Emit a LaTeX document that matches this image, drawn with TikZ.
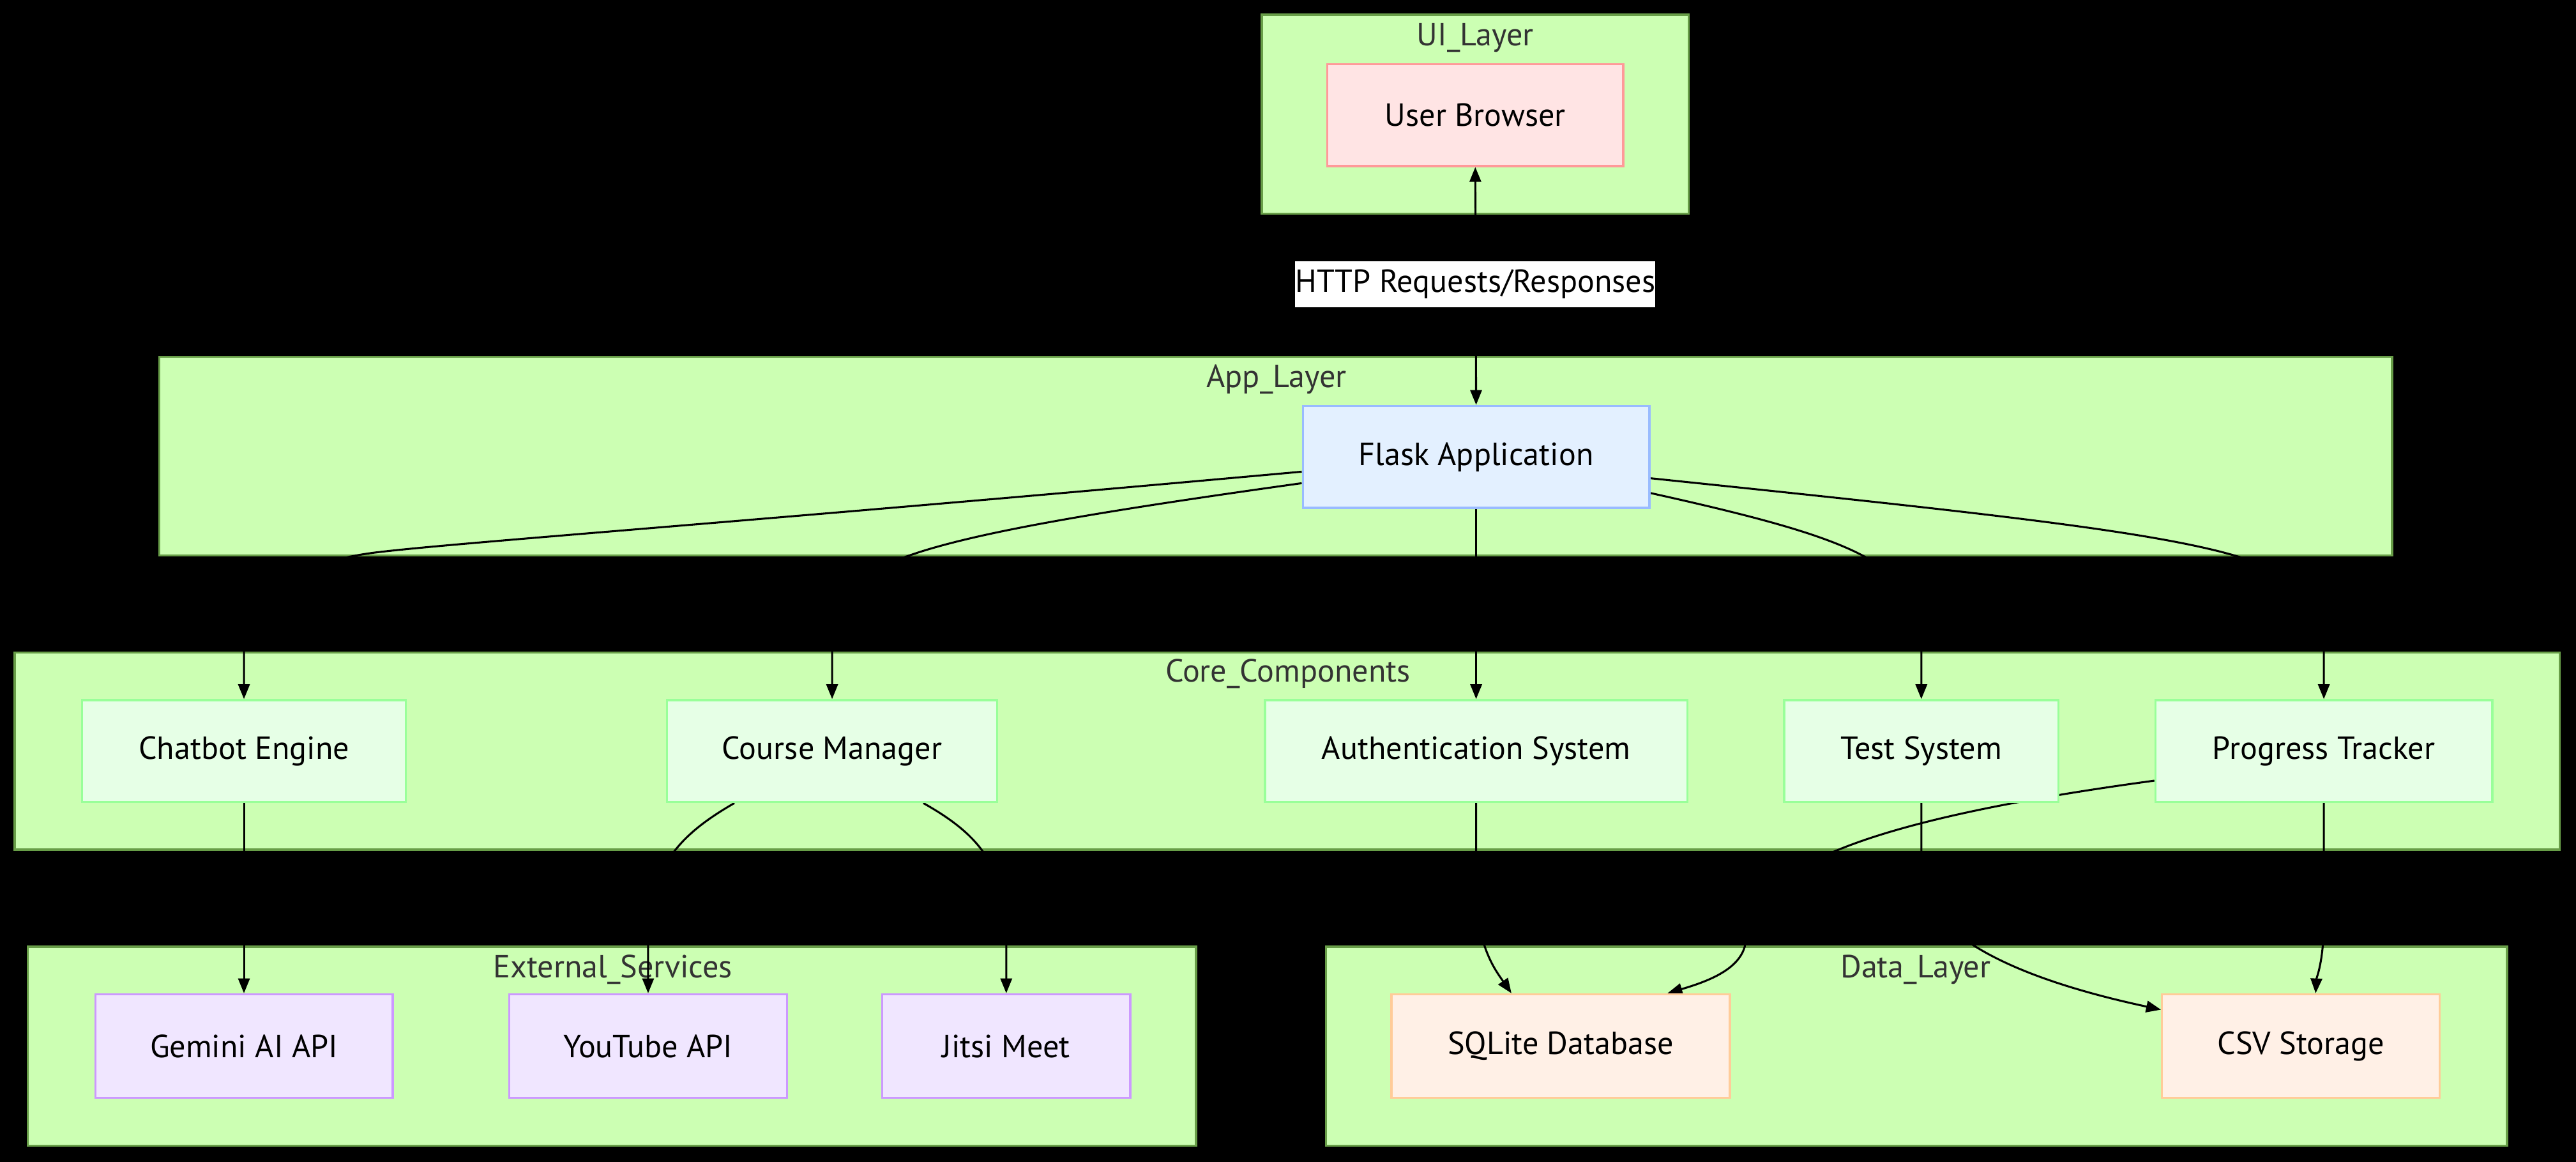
\documentclass[tikz,border=0pt]{standalone}
\usepackage{fontspec}
\setmainfont{PT Sans}
\usetikzlibrary{arrows.meta}
\definecolor{clfill}{RGB}{204,255,179}
\definecolor{cldraw}{RGB}{104,158,72}
\definecolor{cltext}{RGB}{51,51,51}
\definecolor{uifill}{RGB}{255,228,228}
\definecolor{uidraw}{RGB}{255,153,153}
\definecolor{appfill}{RGB}{227,240,255}
\definecolor{appdraw}{RGB}{153,187,255}
\definecolor{corefill}{RGB}{230,255,230}
\definecolor{coredraw}{RGB}{153,255,153}
\definecolor{extfill}{RGB}{240,230,255}
\definecolor{extdraw}{RGB}{204,153,255}
\definecolor{datafill}{RGB}{255,240,230}
\definecolor{datadraw}{RGB}{255,204,153}
\tikzset{
  >={Triangle[length=9pt,width=7pt]},
  txt/.style={font=\fontsize{19.5}{22}\selectfont},
  cluster/.style={draw=cldraw, fill=clfill, line width=1.3pt, inner sep=0pt},
  cltitle/.style={txt, text=cltext, inner sep=0pt},
  box/.style={txt, line width=1.3pt, minimum height=62pt, inner sep=0pt, text=black},
  uibox/.style={box, draw=uidraw, fill=uifill},
  appbox/.style={box, draw=appdraw, fill=appfill},
  corebox/.style={box, draw=coredraw, fill=corefill},
  extbox/.style={box, draw=extdraw, fill=extfill, minimum height=63pt},
  databox/.style={box, draw=datadraw, fill=datafill, minimum height=63pt},
  link/.style={draw=black, line width=1.2pt, ->},
  duallink/.style={draw=black, line width=1.2pt, <->},
  linklabel/.style={txt, fill=white, text=black, minimum width=216pt, minimum height=28pt, inner sep=0pt}
}
\begin{document}
\begin{tikzpicture}[x=1pt, y=-1pt]
  \fill[black] (0,0) rectangle (1568,707);
  \useasboundingbox (0,0) rectangle (1568,707);

  % subgraph frames
  \node[cluster, minimum width=260pt, minimum height=121pt] (uiL) at (898,69.5) {};
  \node[cluster, minimum width=1359pt, minimum height=121pt] (appL) at (776.5,277.5) {};
  \node[cluster, minimum width=1549pt, minimum height=120pt] (coreL) at (783.5,457) {};
  \node[cluster, minimum width=711pt, minimum height=121pt] (extL) at (372.5,636.5) {};
  \node[cluster, minimum width=719pt, minimum height=121pt] (dataL) at (1166.5,636.5) {};

  \node[cltitle] (uiT) at (898,23) {UI\_Layer};
  \node[cltitle] (appT) at (777,231) {App\_Layer};
  \node[cltitle] (coreT) at (784,410) {Core\_Components};
  \node[cltitle] (extT) at (373,590) {External\_Services};
  \node[cltitle] (dataT) at (1166,590) {Data\_Layer};

  % components
  \node[uibox, minimum width=180pt] (ub) at (898,70) {User Browser};
  \node[appbox, minimum width=211pt] (flask) at (898.5,278) {Flask Application};
  \node[corebox, minimum width=197pt] (chat) at (148.5,457) {Chatbot Engine};
  \node[corebox, minimum width=201pt] (course) at (506.5,457) {Course Manager};
  \node[corebox, minimum width=257pt] (auth) at (898.5,457) {Authentication System};
  \node[corebox, minimum width=167pt] (test) at (1169.5,457) {Test System};
  \node[corebox, minimum width=205pt] (prog) at (1414.5,457) {Progress Tracker};
  \node[extbox, minimum width=181pt] (gem) at (148.5,636.5) {Gemini AI API};
  \node[extbox, minimum width=169pt] (yt) at (394.5,636.5) {YouTube API};
  \node[extbox, minimum width=151pt] (jit) at (612.5,636.5) {Jitsi Meet};
  \node[databox, minimum width=206pt] (sql) at (950,636.5) {SQLite Database};
  \node[databox, minimum width=169pt] (csv) at (1400.5,636.5) {CSV Storage};

  % connectors
  \draw[duallink] (ub.south) -- (flask.north);
  \draw[link] ([yshift=-9pt]flask.west) .. controls (450,318) and (280,330) .. (230,336) .. controls (170,343) and (148.5,370) .. (148.5,397) -- (chat.north);
  \draw[link] ([yshift=-16pt]flask.west) .. controls (520,332) and (506.5,345) .. (506.5,397) -- (course.north);
  \draw[link] (flask.south) -- (auth.north);
  \draw[link] ([yshift=-22pt]flask.east) .. controls (1140,330) and (1169.5,345) .. (1169.5,397) -- (test.north);
  \draw[link] ([yshift=-13pt]flask.east) .. controls (1380,330) and (1414.5,335) .. (1414.5,397) -- (prog.north);
  \draw[link] (chat.south) -- (gem.north);
  \draw[link] ([xshift=-59.5pt]course.south) .. controls (410,510) and (394.5,530) .. (394.5,576) -- (yt.north);
  \draw[link] ([xshift=55.5pt]course.south) .. controls (600,510) and (612.5,530) .. (612.5,576) -- (jit.north);
  \draw[link] (auth.south) -- (898.5,540) .. controls (898.5,575) and (910,590) .. ([xshift=-30pt]sql.north);
  \draw[link] ([yshift=-18pt]prog.west) .. controls (1090,505) and (1066,540) .. (1062,576) .. controls (1058,590) and (1040,597) .. ([xshift=65pt]sql.north);
  \draw[link] (test.south) -- (1169.5,530) .. controls (1169.5,568) and (1225,595) .. ([yshift=-10pt]csv.north west);
  \draw[link] (prog.south) -- (1414.5,560) .. controls (1414.5,585) and (1410,595) .. ([xshift=9pt]csv.north);

  % components drawn again on top of the connectors
  \node[uibox, minimum width=180pt] at (ub) {User Browser};
  \node[appbox, minimum width=211pt] at (flask) {Flask Application};
  \node[corebox, minimum width=197pt] at (chat) {Chatbot Engine};
  \node[corebox, minimum width=201pt] at (course) {Course Manager};
  \node[corebox, minimum width=257pt] at (auth) {Authentication System};
  \node[corebox, minimum width=167pt] at (test) {Test System};
  \node[corebox, minimum width=205pt] at (prog) {Progress Tracker};
  \node[extbox, minimum width=181pt] at (gem) {Gemini AI API};
  \node[extbox, minimum width=169pt] at (yt) {YouTube API};
  \node[extbox, minimum width=151pt] at (jit) {Jitsi Meet};
  \node[databox, minimum width=206pt] at (sql) {SQLite Database};
  \node[databox, minimum width=169pt] at (csv) {CSV Storage};

  \node[linklabel] (http) at (898,173) {HTTP Requests/Responses};
\end{tikzpicture}
\end{document}
